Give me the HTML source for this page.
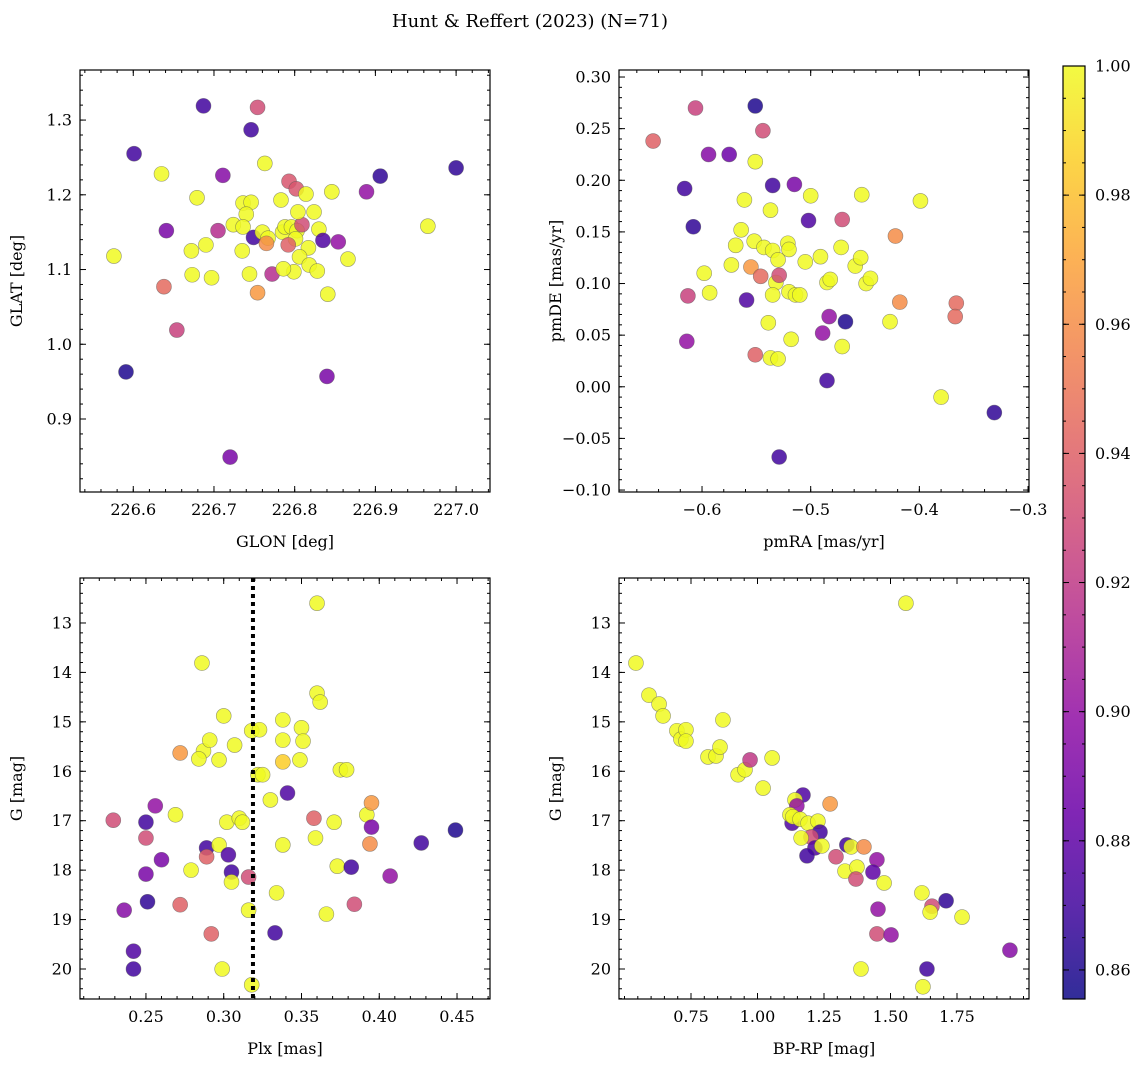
<!DOCTYPE html>
<html><head><meta charset="utf-8"><style>
body{margin:0;background:#fff;}
svg{display:block;font-family:"DejaVu Serif","Liberation Serif",serif;}
</style></head><body>
<svg id="fig" width="1148" height="1067" xmlns="http://www.w3.org/2000/svg">
<rect width="1148" height="1067" fill="#fff"/>
<text x="530" y="27" text-anchor="middle" font-size="18">Hunt &amp; Reffert (2023) (N=71)</text>
</svg>
<script>
// ---------- data ----------
const tlLon=[226.576,226.601,226.591,226.635,226.641,226.638,226.654,226.672,226.673,226.679,226.687,226.690,226.697,226.705,226.711,226.720,226.746,226.754,226.763,226.736,226.746,226.740,226.724,226.736,226.749,226.760,226.767,226.765,226.744,226.735,226.772,226.754,226.783,226.785,226.788,226.796,226.803,226.809,226.801,226.792,226.793,226.802,226.814,226.804,226.824,226.830,226.817,226.806,226.818,226.828,226.799,226.786,226.835,226.854,226.846,226.889,226.906,226.866,226.841,226.840,227.000,226.965];
const tlLat=[1.118,1.255,0.963,1.228,1.152,1.077,1.019,1.125,1.093,1.196,1.319,1.133,1.089,1.152,1.226,0.849,1.287,1.317,1.242,1.189,1.190,1.174,1.160,1.157,1.143,1.150,1.142,1.135,1.094,1.125,1.094,1.069,1.193,1.150,1.157,1.157,1.152,1.160,1.141,1.133,1.218,1.208,1.201,1.177,1.177,1.154,1.129,1.117,1.106,1.098,1.097,1.101,1.139,1.137,1.204,1.204,1.225,1.114,1.067,0.957,1.236,1.158];
const tlProb=[1,0.87,0.86,1,0.89,0.945,0.925,1,1,1,0.87,1,1,0.915,0.895,0.89,0.87,0.93,1,1,1,1,1,1,0.87,1,1,0.96,1,1,0.915,0.965,1,1,1,1,1,0.93,1,0.94,0.935,0.935,1,1,1,1,1,1,1,1,1,1,0.875,0.9,1,0.9,0.865,1,1,0.89,0.865,1];

const trPmra=[-0.645,-0.606,-0.594,-0.575,-0.616,-0.608,-0.551,-0.544,-0.535,-0.515,-0.502,-0.551,-0.561,-0.500,-0.453,-0.399,-0.471,-0.422,-0.598,-0.593,-0.613,-0.614,-0.573,-0.569,-0.564,-0.552,-0.543,-0.537,-0.535,-0.532,-0.530,-0.521,-0.520,-0.555,-0.546,-0.529,-0.559,-0.535,-0.520,-0.514,-0.510,-0.505,-0.491,-0.485,-0.518,-0.539,-0.537,-0.530,-0.551,-0.489,-0.483,-0.485,-0.471,-0.468,-0.482,-0.472,-0.459,-0.454,-0.449,-0.445,-0.427,-0.418,-0.366,-0.367,-0.380,-0.331,-0.529];
const trPmde=[0.238,0.270,0.225,0.225,0.192,0.155,0.272,0.248,0.195,0.196,0.161,0.218,0.181,0.185,0.186,0.180,0.162,0.146,0.110,0.091,0.088,0.044,0.118,0.137,0.152,0.141,0.135,0.171,0.132,0.101,0.123,0.139,0.133,0.116,0.107,0.108,0.084,0.089,0.092,0.089,0.089,0.121,0.126,0.101,0.046,0.062,0.028,0.027,0.031,0.052,0.068,0.006,0.039,0.063,0.104,0.135,0.117,0.125,0.100,0.105,0.063,0.082,0.081,0.068,-0.010,-0.025,-0.068];
const trProb=[0.94,0.925,0.895,0.885,0.87,0.865,0.86,0.93,0.87,0.89,0.875,1,1,1,1,1,0.93,0.96,1,1,0.925,0.9,1,1,1,1,1,1,1,1,1,1,1,0.965,0.945,0.93,0.875,1,1,1,1,1,1,1,1,1,1,1,0.94,0.9,0.9,0.87,1,0.86,1,1,1,1,1,1,1,0.96,0.945,0.945,1,0.865,0.87];

const blPlx=[0.229,0.250,0.250,0.250,0.251,0.236,0.242,0.242,0.256,0.260,0.269,0.272,0.272,0.286,0.287,0.284,0.279,0.289,0.289,0.291,0.292,0.297,0.297,0.300,0.302,0.299,0.303,0.305,0.307,0.305,0.310,0.312,0.316,0.316,0.318,0.318,0.322,0.323,0.325,0.330,0.334,0.333,0.338,0.338,0.338,0.338,0.341,0.349,0.350,0.351,0.360,0.360,0.362,0.358,0.359,0.366,0.371,0.373,0.375,0.379,0.382,0.384,0.392,0.394,0.395,0.395,0.407,0.427,0.449];
const blG=[16.99,17.03,18.08,17.35,18.64,18.81,19.64,20.0,16.70,17.79,16.88,18.70,15.63,13.81,15.59,15.75,18.0,17.55,17.73,15.37,19.29,15.77,17.49,14.88,17.03,20.0,17.69,18.04,15.47,18.24,16.95,17.03,18.14,18.81,15.18,20.32,16.07,15.16,16.07,16.58,18.46,19.27,14.96,15.37,15.81,17.49,16.44,15.77,15.12,15.39,12.60,14.42,14.60,16.95,17.35,18.89,17.03,17.92,15.97,15.97,17.94,18.69,16.88,17.47,16.64,17.13,18.12,17.45,17.19];
const blProb=[0.93,0.87,0.89,0.93,0.865,0.895,0.875,0.87,0.9,0.89,1,0.94,0.965,1,1,1,1,0.87,0.94,1,0.94,1,1,1,1,1,0.875,0.87,1,1,1,1,0.93,1,1,1,1,1,1,1,1,0.87,1,1,0.985,1,0.875,1,1,1,1,1,1,0.94,1,1,1,1,1,1,0.87,0.93,1,0.96,0.965,0.89,0.9,0.87,0.86];
const blCut=[0.3188];

const brColor=[0.543,0.592,0.630,0.645,0.697,0.712,0.731,0.731,0.814,0.844,0.859,0.870,0.927,0.953,0.972,1.021,1.055,1.171,1.141,1.148,1.273,1.130,1.122,1.133,1.160,1.190,1.227,1.235,1.201,1.164,1.216,1.242,1.186,1.295,1.336,1.352,1.400,1.449,1.434,1.329,1.374,1.370,1.476,1.618,1.656,1.649,1.449,1.502,1.389,1.622,1.637,1.709,1.769,1.949,1.558,1.453];
const brG=[13.81,14.46,14.64,14.88,15.18,15.35,15.16,15.39,15.71,15.69,15.51,14.96,16.07,15.97,15.77,16.34,15.73,16.48,16.58,16.70,16.66,17.05,16.88,16.92,16.97,17.05,17.01,17.23,17.33,17.35,17.55,17.51,17.71,17.73,17.49,17.53,17.53,17.79,18.04,18.02,17.94,18.18,18.26,18.46,18.73,18.85,19.29,19.31,20.0,20.36,20.0,18.62,18.95,19.62,12.6,18.79];
const brProb=[1,1,1,1,1,1,1,1,1,1,1,1,1,1,0.92,1,1,0.875,1,0.9,0.965,0.875,1,1,1,1,1,0.87,0.93,1,0.875,1,0.87,0.93,0.87,1,0.96,0.9,0.88,1,1,0.93,1,1,0.93,1,0.93,0.9,1,1,0.87,0.865,1,0.895,1,0.9];

const cbTicks=[0.86,0.88,0.90,0.92,0.94,0.96,0.98,1.00];

// ---------- helpers ----------
const NS='http://www.w3.org/2000/svg';
const svg=document.getElementById('fig');
function mk(tag,attrs,parent){const e=document.createElementNS(NS,tag);for(const k in attrs)e.setAttribute(k,attrs[k]);(parent||svg).appendChild(e);return e;}
const stops=['#0d0887','#41049d','#6a00a8','#8f0da4','#b12a90','#cc4778','#e16462','#f2844b','#fca636','#fcce25','#f0f921'];
function hex(h){return [1,3,5].map(i=>parseInt(h.substr(i,2),16));}
function plasma(t){t=Math.max(0,Math.min(1,t));const s=t*10,i=Math.min(9,Math.floor(s)),f=s-i;const a=hex(stops[i]),b=hex(stops[i+1]);return 'rgb('+a.map((v,k)=>Math.round(v+(b[k]-v)*f)).join(',')+')';}
const VMIN=0.8555,VMAX=1.0;
function cmap(p){return plasma((p-VMIN)/(VMAX-VMIN));}
function fmt(v,d){let s=v.toFixed(d);if(v<0)s='\u2212'+(-v).toFixed(d);return s;}

function panel(o){
  const {name,L,T,R,B,x0,x1,y0,y1,xt,xm,yt,ym,xd,yd,xlab,ylab}=o;
  const g=mk('g',{});
  
  
  const X=v=>L+(v-x0)/(x1-x0)*(R-L);
  const Y=v=>B-(v-y0)/(y1-y0)*(B-T);
  const clip='clip-'+name;
  const cp=mk('clipPath',{id:clip},g);mk('rect',{x:L,y:T,width:R-L,height:B-T},cp);
  // minor ticks
  const tk=mk('g',{stroke:'#000','stroke-width':1},g);
  
  
  const inX=v=>v>=Math.min(x0,x1)-1e-9&&v<=Math.max(x0,x1)+1e-9;
  const inY=v=>v>=Math.min(y0,y1)-1e-9&&v<=Math.max(y0,y1)+1e-9;
  for(let v=Math.ceil(Math.min(x0,x1)/xm-1e-6)*xm;v<=Math.max(x0,x1)+1e-9;v+=xm){const x=X(v);mk('line',{x1:x,x2:x,y1:B,y2:B-3},tk);mk('line',{x1:x,x2:x,y1:T,y2:T+3},tk);}
  for(let v=Math.ceil(Math.min(y0,y1)/ym-1e-6)*ym;v<=Math.max(y0,y1)+1e-9;v+=ym){const y=Y(v);mk('line',{x1:L,x2:L+3,y1:y,y2:y},tk);mk('line',{x1:R,x2:R-3,y1:y,y2:y},tk);}
  xt.forEach(v=>{if(!inX(v))return;const x=X(v);mk('line',{x1:x,x2:x,y1:B,y2:B-6},tk);mk('line',{x1:x,x2:x,y1:T,y2:T+6},tk);
    const t=mk('text',{x:x,y:B+23,'text-anchor':'middle','font-size':16},g);t.textContent=fmt(v,xd);
    
    });
  yt.forEach(v=>{if(!inY(v))return;const y=Y(v);mk('line',{x1:L,x2:L+6,y1:y,y2:y},tk);mk('line',{x1:R,x2:R-6,y1:y,y2:y},tk);
    const t=mk('text',{x:L-8,y:y+5.5,'text-anchor':'end','font-size':16},g);t.textContent=fmt(v,yd);
    
    });
  const fr=mk('rect',{x:L,y:T,width:R-L,height:B-T,fill:'none',stroke:'#000','stroke-width':1.2},g);
  
  
  const xl=mk('text',{x:(L+R)/2,y:B+55,'text-anchor':'middle','font-size':16},g);xl.textContent=xlab;
  
  
  const yx=L-58,yy=(T+B)/2;
  const yl=mk('text',{x:yx,y:yy,'text-anchor':'middle','font-size':16,transform:'rotate(-90 '+yx+' '+yy+')'},g);yl.textContent=ylab;
  
  
  const pts=mk('g',{'clip-path':'url(#'+clip+')'},g);
  
  
  return {X,Y,pts,g};
}
function scatter(p,xs,ys,ps,name){
  xs.forEach((v,i)=>{const c=mk('circle',{cx:p.X(v),cy:p.Y(ys[i]),r:7.5,fill:cmap(ps[i]),'fill-opacity':0.85,stroke:'#555','stroke-opacity':0.6,'stroke-width':0.6},p.pts);
    
    });
}
function rng(a,b,s){const r=[];for(let v=a;v<=b+1e-9;v+=s)r.push(Math.round(v*1000)/1000);return r;}

const p1=panel({name:'glon-glat-panel',L:80,T:70,R:490,B:492,x0:226.534,x1:227.042,y0:0.8023,y1:1.367,xt:rng(226.6,227.0,0.1),xm:0.02,yt:rng(0.9,1.3,0.1),ym:0.02,xd:1,yd:1,xlab:'GLON [deg]',ylab:'GLAT [deg]'});
scatter(p1,tlLon,tlLat,tlProb,'star-point');
const p2=panel({name:'propermotion-panel',L:619,T:70,R:1029,B:492,x0:-0.6764,x1:-0.2991,y0:-0.1019,y1:0.3068,xt:rng(-0.6,-0.3,0.1),xm:0.02,yt:rng(-0.1,0.3,0.05),ym:0.01,xd:1,yd:2,xlab:'pmRA [mas/yr]',ylab:'pmDE [mas/yr]'});
scatter(p2,trPmra,trPmde,trProb,'star-point');
const p3=panel({name:'parallax-panel',L:80,T:578,R:490,B:999,x0:0.2076,x1:0.4712,y0:20.607,y1:12.09,xt:rng(0.25,0.45,0.05),xm:0.01,yt:rng(13,20,1),ym:0.2,xd:2,yd:0,xlab:'Plx [mas]',ylab:'G [mag]'});
scatter(p3,blPlx,blG,blProb,'star-point');
blCut.forEach(v=>{const l=mk('line',{x1:p3.X(v),x2:p3.X(v),y1:578,y2:999,stroke:'#000','stroke-width':4,'stroke-dasharray':'4 4'},p3.pts);
  
  });
const p4=panel({name:'cmd-panel',L:619,T:578,R:1029,B:999,x0:0.4793,x1:2.0207,y0:20.607,y1:12.09,xt:rng(0.75,1.75,0.25),xm:0.05,yt:rng(13,20,1),ym:0.2,xd:2,yd:0,xlab:'BP-RP [mag]',ylab:'G [mag]'});
scatter(p4,brColor,brG,brProb,'star-point');

// colorbar
const cb=mk('g',{});


const CL=1063,CR=1085,CT=66,CB=999;
const defs=mk('defs',{},cb);const lg=mk('linearGradient',{id:'cbg',x1:0,y1:1,x2:0,y2:0},defs);
for(let i=0;i<=20;i++)mk('stop',{offset:i/20,'stop-color':plasma(i/20),'stop-opacity':0.85},lg);
mk('rect',{x:CL,y:CT,width:CR-CL,height:CB-CT,fill:'url(#cbg)',stroke:'#000','stroke-width':1.2},cb);
const CY=v=>CB-(v-VMIN)/(VMAX-VMIN)*(CB-CT);
for(let v=0.86;v<=1.0001;v+=0.005){const y=CY(v);mk('line',{x1:CR,x2:CR-3,y1:y,y2:y,stroke:'#000'},cb);mk('line',{x1:CL,x2:CL+3,y1:y,y2:y,stroke:'#000'},cb);}
cbTicks.forEach(v=>{const y=CY(v);mk('line',{x1:CR,x2:CR-6,y1:y,y2:y,stroke:'#000'},cb);mk('line',{x1:CL,x2:CL+6,y1:y,y2:y,stroke:'#000'},cb);
  const t=mk('text',{x:CR+10,y:y+5.5,'font-size':16},cb);t.textContent=v.toFixed(2);
  
  });
</script>
</body></html>
